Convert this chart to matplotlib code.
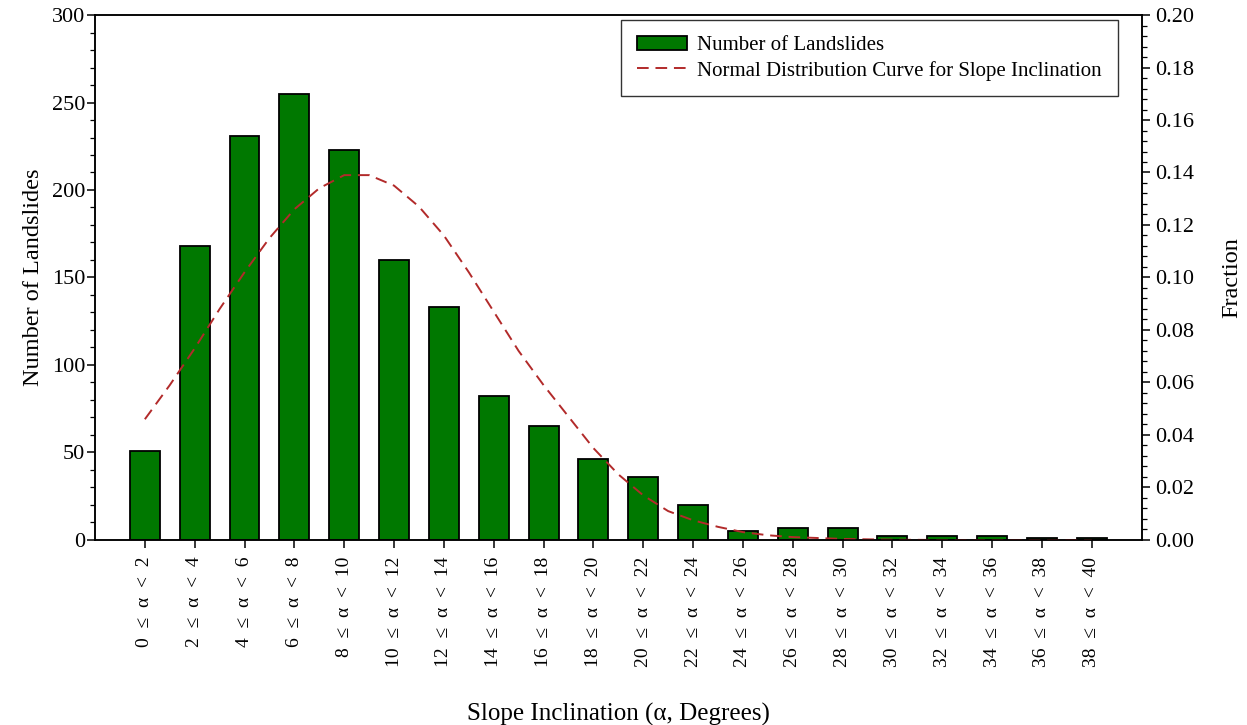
import numpy as np
import matplotlib
matplotlib.use("Agg")
import matplotlib.pyplot as plt
from matplotlib.ticker import MultipleLocator

plt.rcParams['font.family'] = ['Liberation Serif', 'DejaVu Serif']

# slope classes (degrees) and landslide counts
lower = [0, 2, 4, 6, 8, 10, 12, 14, 16, 18, 20, 22, 24, 26, 28, 30, 32, 34, 36, 38]
upper = [2, 4, 6, 8, 10, 12, 14, 16, 18, 20, 22, 24, 26, 28, 30, 32, 34, 36, 38, 40]
counts = [51, 168, 231, 255, 223, 160, 133, 82, 65, 46, 36, 20, 5, 7, 7, 2, 2, 2, 1, 1]

# normal distribution curve, slope (degrees) vs fraction
curve_deg = [1, 2, 3, 4, 5, 6, 7, 8, 9, 10, 11, 12, 13, 14, 15, 16, 17, 18, 19,
             20, 21, 22, 23, 24, 25, 26, 27, 29, 31, 33, 35, 37, 39]
curve_frac = [0.046, 0.059, 0.073, 0.088, 0.102, 0.115, 0.126, 0.134, 0.139, 0.139,
              0.135, 0.127, 0.116, 0.102, 0.087, 0.072, 0.059, 0.047, 0.035, 0.025,
              0.017, 0.011, 0.0075, 0.005, 0.003, 0.0018, 0.0011, 0.0004, 0.0001,
              0.0, 0.0, 0.0, 0.0]

labels = [f"{a}  ≤  α  <  {b}" for a, b in zip(lower, upper)]
pos = np.arange(len(counts))
# bin centre in degrees -> bar position
curve_pos = (np.array(curve_deg) - 1) / 2.0

fig = plt.figure(figsize=(12.47, 7.25), dpi=100)
ax = fig.add_axes([0.0762, 0.2552, 0.8393, 0.7241])
ax2 = ax.twinx()

bars = ax.bar(pos, counts, width=0.6, color='#007800', edgecolor='black',
              linewidth=1.3, label='Number of Landslides', zorder=2)
line, = ax2.plot(curve_pos, curve_frac, color='#b22a2a', lw=1.4,
                 dashes=(6, 3.5), label='Normal Distribution Curve for Slope Inclination')

ax.set_xlim(-1, 20)
ax.set_ylim(0, 300)
ax2.set_ylim(0, 0.20)

ax.set_xticks(pos)
ax.set_xticklabels(labels, rotation=90, fontsize=14)
ax.yaxis.set_major_locator(MultipleLocator(50))
ax.yaxis.set_minor_locator(MultipleLocator(10))
ax2.yaxis.set_major_locator(MultipleLocator(0.02))
ax2.yaxis.set_minor_locator(MultipleLocator(0.004))
ax2.set_yticklabels([f"{v:.2f}" for v in ax2.get_yticks()])

for a in (ax, ax2):
    a.tick_params(which='major', direction='out', length=6, width=1.1)
    a.tick_params(which='minor', direction='out', length=3.5, width=0.9)
    a.tick_params(axis='y', labelsize=16)
    for s in a.spines.values():
        s.set_linewidth(1.1)
ax.tick_params(axis='x', pad=6)
ax.tick_params(axis='y', pad=1)

ax.set_ylabel('Number of Landslides', fontsize=17.5, labelpad=6)
ax2.set_ylabel('Fraction', fontsize=17.5, labelpad=20)
ax.set_xlabel('Slope Inclination (α, Degrees)', fontsize=18, labelpad=26)

leg = ax2.legend([bars, line], [bars.get_label(), line.get_label()],
                 loc='upper right', bbox_to_anchor=(0.977, 0.99), fontsize=15,
                 fancybox=False, framealpha=1, edgecolor='#333333',
                 handlelength=2.4, borderpad=0.75, labelspacing=0.25,
                 handletextpad=0.5, borderaxespad=0.0)
leg.get_frame().set_linewidth(1.0)

fig.savefig('out.png', dpi=100)
